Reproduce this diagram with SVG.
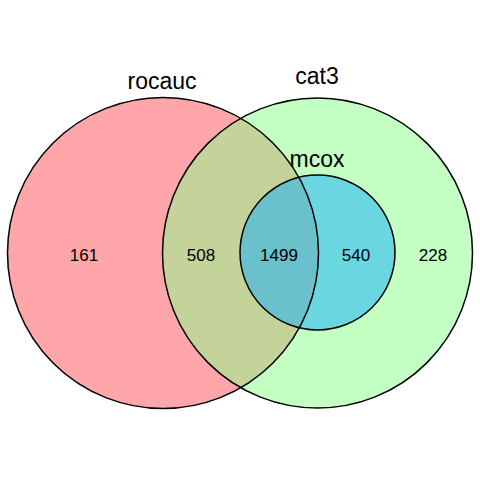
<svg xmlns="http://www.w3.org/2000/svg" width="480" height="480" viewBox="0 0 480 480">
<style>
.f{stroke:none;fill-opacity:0.5}
.o{stroke:#000;stroke-width:1.5;fill:none}
.lab{font-family:"Liberation Sans",Arial,sans-serif;font-size:23px;fill:#000;text-anchor:middle}
.num{font-family:"Liberation Sans",Arial,sans-serif;font-size:17px;fill:#000;text-anchor:middle}
</style>
<defs>
<circle id="cR" cx="163" cy="253" r="155.5"/>
<circle id="cG" cx="317.5" cy="253" r="155"/>
<circle id="cB" cx="317.5" cy="252.5" r="77.5"/>
</defs>
<rect width="480" height="480" fill="#fff"/>
<g id="rocauc">
<use href="#cR" class="f" fill="#FF4D55"/>
</g>
<g id="cat3">
<use href="#cG" class="f" fill="#89FF89"/>
</g>
<g id="mcox">
<use href="#cB" class="f" fill="#10AFFC"/>
</g>
<g id="outlines">
<use href="#cR" class="o"/>
<use href="#cG" class="o"/>
<use href="#cB" class="o"/>
</g>
<g id="connectors"></g>
<g id="labels">
<text class="lab" x="162" y="89">rocauc</text>
<text class="lab" x="317" y="84">cat3</text>
<text class="lab" x="317" y="167">mcox</text>
<text class="num" x="84" y="261">161</text>
<text class="num" x="201" y="261">508</text>
<text class="num" x="279" y="261">1499</text>
<text class="num" x="356" y="261">540</text>
<text class="num" x="433" y="261">228</text>
</g>
</svg>
